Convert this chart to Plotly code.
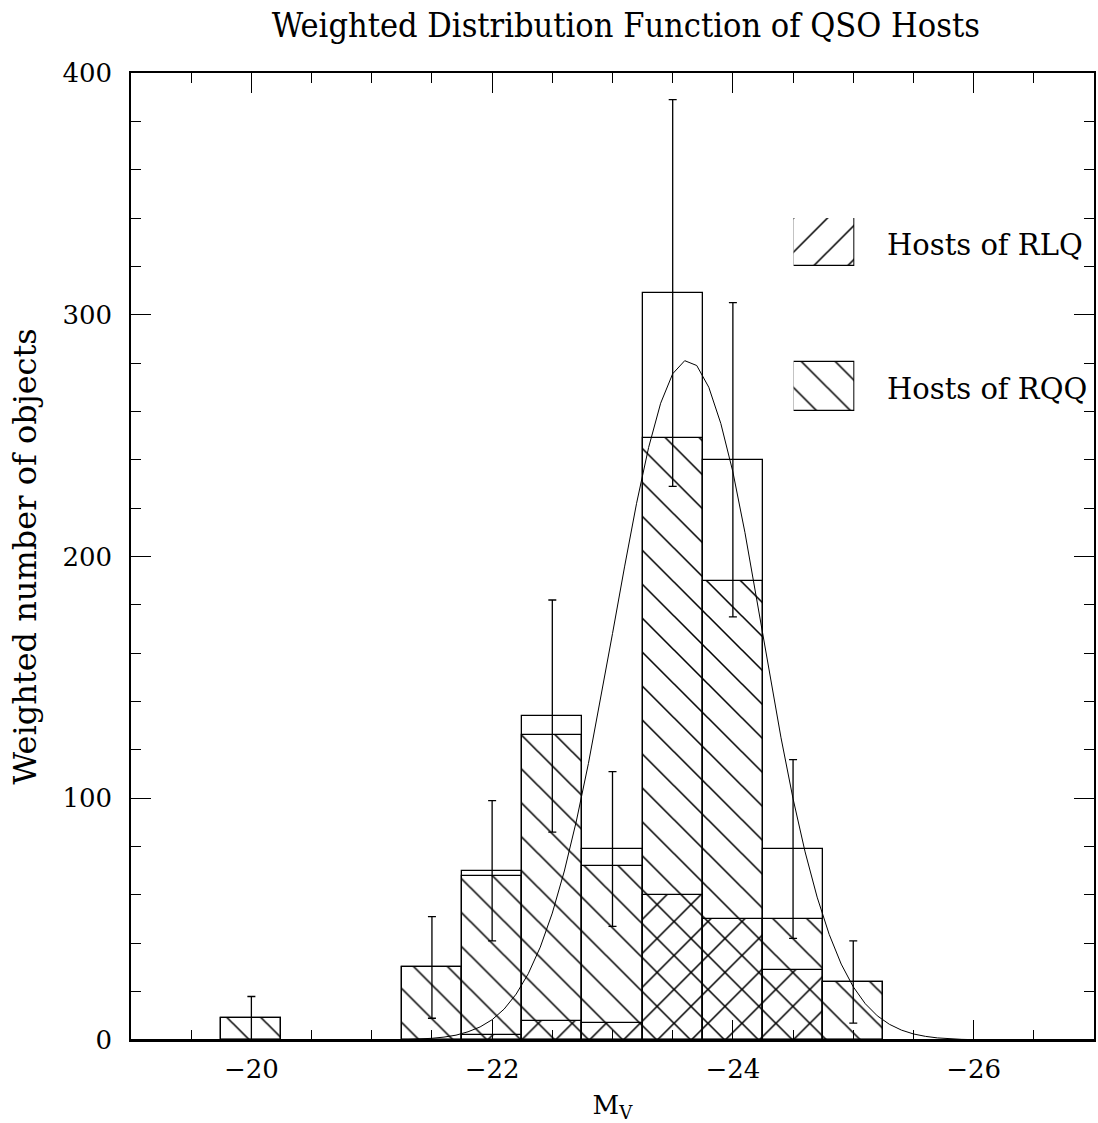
import plotly.graph_objects as go

# ---------------- data ----------------
bin_centers = [-20.0, -21.5, -22.0, -22.5, -23.0, -23.5, -24.0, -24.5, -25.0]
rqq_counts = [9, 30, 68, 126, 72, 249, 190, 50, 24]
rlq_counts = [0, 0, 2, 8, 7, 60, 50, 29, 0]
total_counts = [9, 30, 70, 134, 79, 309, 240, 79, 24]
total_errors = [9, 21, 29, 48, 32, 80, 65, 37, 17]
bin_width = 0.5

fit_x = [-21.3, -21.4, -21.5, -21.6, -21.7, -21.8, -21.9, -22.0, -22.1, -22.2,
         -22.3, -22.4, -22.5, -22.6, -22.7, -22.8, -22.9, -23.0, -23.1, -23.2,
         -23.3, -23.4, -23.5, -23.6, -23.7, -23.8, -23.9, -24.0, -24.1, -24.2,
         -24.3, -24.4, -24.5, -24.6, -24.7, -24.8, -24.9, -25.0, -25.1, -25.2,
         -25.3, -25.4, -25.5, -25.6, -25.7, -25.8, -25.9, -26.0, -26.1, -26.2,
         -26.3, -26.4, -26.5]
fit_y = [0.2, 0.4, 0.7, 1.2, 2.0, 3.4, 5.4, 8.4, 12.8, 19.0,
         27.4, 38.4, 52.5, 69.9, 90.6, 114.4, 140.5, 168.1, 195.7, 222.0,
         245.1, 263.4, 275.6, 281.0, 279.0, 270.0, 255.0, 235.0, 210.0, 182.0,
         153.0, 125.0, 99.8, 77.8, 59.1, 43.7, 31.4, 22.0, 15.0, 10.0,
         6.5, 4.1, 2.5, 1.5, 0.86, 0.49, 0.27, 0.14, 0.07, 0.04,
         0.02, 0.01, 0.0]

title_text = "Weighted Distribution Function of QSO Hosts"
x_title = "M<sub>V</sub>"
y_title = "Weighted number of objects"
legend_labels = ["Hosts of RLQ", "Hosts of RQQ"]

# ---------------- style ----------------
SERIF = "DejaVu Serif"
HATCH = 24
SOLID = 0.065
LW = 1.3


def hatch(shape, bg):
    return dict(shape=shape, fgcolor="black", bgcolor=bg, fgopacity=1,
                fillmode="replace", size=HATCH, solidity=SOLID)


fig = go.Figure()

# RQQ histogram (\\ hatch)
fig.add_trace(go.Bar(
    x=bin_centers, y=rqq_counts, width=bin_width,
    marker=dict(color="white", opacity=1, line=dict(color="black", width=LW),
                pattern=hatch("\\", "white")),
    showlegend=False, hoverinfo="skip"))

# RLQ histogram (/ hatch, overlays to cross-hatch)
fig.add_trace(go.Bar(
    x=bin_centers, y=rlq_counts, width=bin_width,
    marker=dict(color="rgba(0,0,0,0)", opacity=1, line=dict(color="black", width=LW),
                pattern=hatch("/", "rgba(0,0,0,0)")),
    showlegend=False, hoverinfo="skip"))

# Total histogram (open) with error bars
fig.add_trace(go.Bar(
    x=bin_centers, y=total_counts, width=bin_width,
    marker=dict(color="rgba(0,0,0,0)", opacity=1, line=dict(color="black", width=LW)),
    error_y=dict(type="data", array=total_errors, visible=True,
                 color="black", thickness=1.3, width=4),
    showlegend=False, hoverinfo="skip"))

# Fitted curve
fig.add_trace(go.Scatter(
    x=fit_x, y=fit_y, mode="lines",
    line=dict(color="black", width=1),
    showlegend=False, hoverinfo="skip"))

# ---------------- legend swatches on their own small axes ----------------
fig.add_trace(go.Bar(
    x=[0.5], y=[48], base=[145], width=[1], xaxis="x2", yaxis="y2",
    marker=dict(color="white", opacity=1, line=dict(color="black", width=LW),
                pattern=hatch("/", "white")),
    showlegend=False, hoverinfo="skip"))
fig.add_trace(go.Bar(
    x=[0.5], y=[49], base=[0], width=[1], xaxis="x2", yaxis="y2",
    marker=dict(color="white", opacity=1, line=dict(color="black", width=LW),
                pattern=hatch("\\", "white")),
    showlegend=False, hoverinfo="skip"))

axis_common = dict(
    showline=True, linecolor="black", linewidth=1.5, mirror="allticks",
    ticks="inside", ticklen=20, tickwidth=1.3, tickcolor="black",
    showgrid=False,
    tickfont=dict(family=SERIF, size=26, color="black"),
)

fig.update_layout(
    width=1098, height=1123,
    margin=dict(l=131, r=2, t=73, b=83),
    paper_bgcolor="white", plot_bgcolor="white",
    barmode="overlay", bargap=0,
    title=dict(text=title_text, x=0.570, xanchor="center", y=1 - 25 / 1123, yanchor="middle",
               font=dict(family="DejaVu Serif Condensed, DejaVu Serif", size=34, color="black")),
    xaxis=dict(range=[-19, -27], dtick=2, tick0=0, zeroline=False,
               minor=dict(dtick=0.5, ticks="inside", ticklen=10, tickwidth=1.3, tickcolor="black"),
               title=dict(text=x_title, font=dict(family=SERIF, size=26, color="black"), standoff=14),
               ticklabelstandoff=5,
               **axis_common),
    yaxis=dict(range=[0, 400], dtick=100, tick0=0,
               zeroline=True, zerolinecolor="black", zerolinewidth=3,
               minor=dict(dtick=20, ticks="inside", ticklen=10, tickwidth=1.3, tickcolor="black"),
               title=dict(text=y_title, font=dict(family=SERIF, size=32, color="black"), standoff=16),
               ticklabelstandoff=12,
               **axis_common),
    xaxis2=dict(domain=[(795 - 131) / 965, (856 - 131) / 965], range=[0, 1],
                anchor="y2", visible=False, fixedrange=True),
    yaxis2=dict(domain=[(1040 - 411) / 967, (1040 - 218) / 967], range=[0, 193],
                anchor="x2", visible=False, fixedrange=True),
    showlegend=False,
)

# legend labels
for label, ypix in zip(legend_labels, [245, 389]):
    fig.add_annotation(
        text=label, xref="paper", yref="paper",
        x=(887 - 131) / 965, y=(1040 - ypix) / 967, xanchor="left", yanchor="middle",
        showarrow=False, font=dict(family=SERIF, size=29, color="black"))

fig.write_html("out.html")
